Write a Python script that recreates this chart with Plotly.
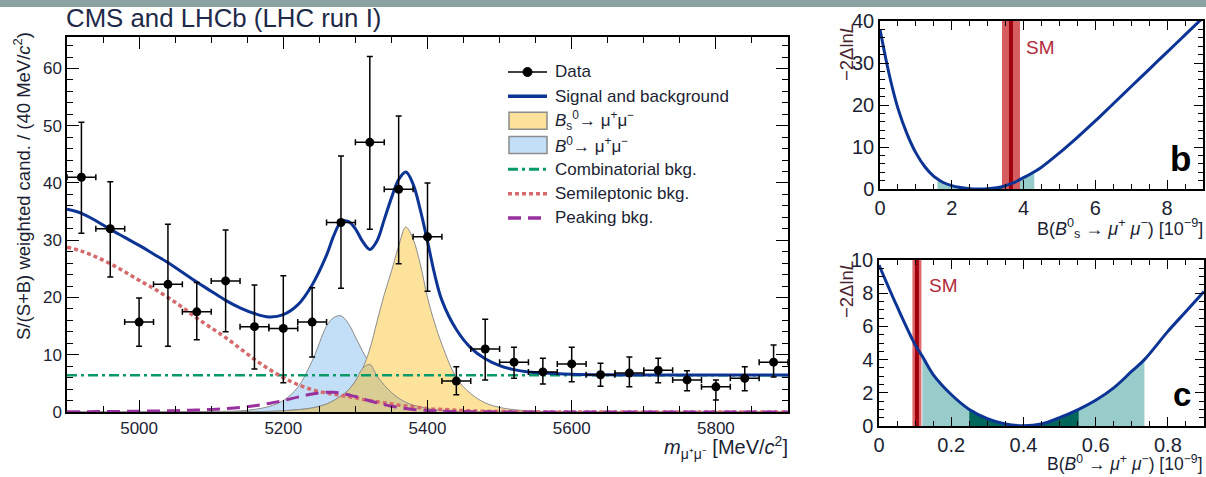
import plotly.graph_objects as go

# ---------------- main panel: data ----------------
bin_centers = [4920, 4960, 5000, 5040, 5080, 5120, 5160, 5200, 5240, 5280, 5320, 5360, 5400,
               5440, 5480, 5520, 5560, 5600, 5640, 5680, 5720, 5760, 5800, 5840, 5880]
data_vals = [41.0, 32.0, 15.7, 22.3, 17.5, 22.9, 14.9, 14.6, 15.7, 33.1, 47.1, 38.9, 30.6,
             5.4, 11.0, 8.7, 7.0, 8.4, 6.5, 6.8, 7.3, 5.6, 4.4, 5.9, 8.7]
data_err_up = [9.6, 8.2, 4.2, 10.5, 5.1, 8.9, 7.3, 9.2, 6.0, 11.6, 15.0, 12.8, 9.4,
               2.5, 5.2, 2.6, 2.4, 2.9, 2.0, 2.8, 2.1, 1.6, 1.2, 2.0, 3.0]
data_err_dn = [9.8, 8.4, 4.2, 10.8, 4.9, 8.9, 7.4, 9.5, 6.1, 11.5, 15.2, 13.0, 9.5,
               2.4, 5.4, 2.8, 2.1, 3.1, 2.0, 2.4, 2.2, 1.9, 2.3, 2.2, 2.6]
bin_half_width = 20

# ---------------- main panel: fit components ----------------
curve_mass = [4900, 4920, 4940, 4960, 4980, 5000, 5020, 5040, 5060, 5080, 5100, 5120, 5140,
              5160, 5180, 5200, 5220, 5240, 5260, 5270, 5280, 5290, 5300, 5310, 5320, 5330,
              5340, 5350, 5360, 5370, 5380, 5390, 5400, 5410, 5420, 5440, 5460, 5480, 5500,
              5520, 5540, 5560, 5600, 5650, 5700, 5750, 5800, 5850, 5900]
total_fit = [35.4, 34.7, 33.4, 31.9, 30.5, 29.1, 27.6, 26.1, 24.4, 22.7, 21.1, 19.5, 18.2,
             17.2, 16.6, 17.0, 18.7, 22.2, 27.4, 30.8, 33.2, 33.3, 32.0, 29.8, 28.4, 29.9,
             33.6, 37.4, 40.6, 41.9, 39.8, 35.3, 29.8, 24.0, 19.5, 14.4, 11.2, 9.3, 8.1,
             7.4, 7.0, 6.8, 6.6, 6.5, 6.45, 6.45, 6.45, 6.45, 6.45]
bs_signal = [0, 0, 0, 0, 0, 0, 0, 0, 0, 0, 0.02, 0.03, 0.05,
             0.07, 0.1, 0.2, 0.4, 0.7, 1.4, 2.0, 2.8, 3.8, 5.4, 7.6, 11.0, 15.8,
             20.5, 24.6, 29.0, 32.3, 30.2, 25.8, 20.0, 15.5, 11.8, 6.0, 3.2, 1.6, 0.8,
             0.4, 0.2, 0.1, 0.04, 0, 0, 0, 0, 0, 0]
b0_signal = [0, 0, 0, 0, 0, 0, 0, 0, 0.02, 0.04, 0.06, 0.12, 0.2,
             0.45, 0.95, 2.0, 4.3, 8.9, 15.0, 16.5, 16.8, 15.5, 13.1, 10.6, 8.3, 6.3,
             4.7, 3.4, 2.4, 1.7, 1.2, 0.9, 0.6, 0.4, 0.3, 0.15, 0.08, 0.04, 0.02,
             0, 0, 0, 0, 0, 0, 0, 0, 0, 0]
semileptonic = [28.8, 28.1, 27.1, 25.9, 24.5, 23.0, 21.6, 20.0, 18.3, 16.4, 14.7, 13.0, 11.1,
                9.2, 7.5, 6.0, 4.8, 3.9, 3.3, 3.1, 2.9, 2.7, 2.5, 2.2, 2.0, 1.8,
                1.6, 1.4, 1.2, 1.05, 0.9, 0.75, 0.6, 0.5, 0.45, 0.3, 0.2, 0.12, 0.08,
                0.05, 0.03, 0.02, 0.01, 0, 0, 0, 0, 0, 0]
peaking = [0.05, 0.06, 0.07, 0.09, 0.11, 0.14, 0.17, 0.21, 0.27, 0.35, 0.45, 0.6, 0.8,
           1.1, 1.5, 2.0, 2.6, 3.15, 3.45, 3.45, 3.3, 3.0, 2.7, 2.3, 1.95, 1.6,
           1.3, 1.0, 0.8, 0.6, 0.45, 0.35, 0.27, 0.2, 0.15, 0.09, 0.05, 0.03, 0.02,
           0.01, 0.01, 0.01, 0.01, 0, 0, 0, 0, 0, 0]
combinatorial_level = 6.4
mass_range = [4900, 5900]

legend_labels = ["Data", "Signal and background",
                 "<i>B</i><sub>s</sub><sup>0</sup>→ μ<sup>+</sup>μ<sup>−</sup>",
                 "<i>B</i><sup>0</sup>→ μ<sup>+</sup>μ<sup>−</sup>",
                 "Combinatorial bkg.", "Semileptonic bkg.", "Peaking bkg."]

# ---------------- panel b: -2 Delta lnL for Bs ----------------
b_x = [0, 0.25, 0.5, 0.75, 1.0, 1.25, 1.5, 1.6, 1.75, 2.0, 2.2, 2.5, 2.75, 3.0, 3.25, 3.4,
       3.5, 3.75, 4.0, 4.3, 4.5, 5.0, 5.5, 6.0, 6.5, 7.0, 7.5, 8.0, 8.5, 9.0]
b_y = [38.0, 27.5, 19.2, 13.2, 8.6, 5.3, 3.0, 2.4, 1.6, 0.8, 0.4, 0.08, 0.0, 0.07, 0.3, 0.55,
       0.8, 1.6, 2.7, 4.1, 5.2, 8.6, 12.3, 16.2, 20.3, 24.4, 28.5, 32.6, 36.7, 40.8]
b_2sigma = [1.6, 4.3]
b_1sigma = [2.2, 3.4]
b_sm = [3.65, 0.25]          # central value, half-width of band
b_yrange = [0, 40]

# ---------------- panel c: -2 Delta lnL for B0 ----------------
c_x = [0, 0.05, 0.1, 0.12, 0.15, 0.2, 0.25, 0.3, 0.35, 0.4, 0.45, 0.5, 0.553, 0.6, 0.65,
       0.7, 0.735, 0.8, 0.85, 0.9]
c_y = [9.7, 7.2, 4.9, 4.2, 3.1, 1.9, 1.0, 0.45, 0.12, 0.02, 0.12, 0.5, 1.0, 1.55, 2.3,
       3.3, 4.0, 5.7, 6.9, 8.1]
c_2sigma = [0.12, 0.735]
c_1sigma = [0.25, 0.553]
c_sm = [0.105, 0.0125]
c_yrange = [0, 10]

# ---------------- styling ----------------
W, H = 1206, 477
FONT = "Liberation Sans, Arial, sans-serif"
TXT = "#1c1f33"
BLUE = "#0b3494"
C_BS = "#fde29b"
C_B0 = "#c3dff7"
C_OVL = "#d9cd93"
C_OUT = "#8c8c8c"
C_COMB = "#0a9a6a"
C_SEMI = "#d46a6c"
C_PEAK = "#98309e"
DASH_COMB = "10px,4px,3px,4px"
DASH_SEMI = "4px,3px"
DASH_PEAK = "13px,7px"


def fx(p):
    return p / W


def fy(p):
    return 1 - p / H


fig = go.Figure()

# signal fills
overlap = [min(a, b) for a, b in zip(b0_signal, bs_signal)]
fig.add_trace(go.Scatter(x=curve_mass, y=b0_signal, mode="lines", fill="tozeroy",
                         fillcolor=C_B0, line=dict(color=C_OUT, width=1, shape="spline"),
                         name="B0 → μμ", xaxis="x", yaxis="y"))
fig.add_trace(go.Scatter(x=curve_mass, y=bs_signal, mode="lines", fill="tozeroy",
                         fillcolor=C_BS, line=dict(color=C_OUT, width=1, shape="spline"),
                         name="Bs → μμ", xaxis="x", yaxis="y"))
fig.add_trace(go.Scatter(x=curve_mass, y=overlap, mode="lines", fill="tozeroy",
                         fillcolor=C_OVL, line=dict(color=C_OUT, width=1, shape="spline"),
                         hoverinfo="skip", xaxis="x", yaxis="y"))

# background components
fig.add_trace(go.Scatter(x=mass_range, y=[combinatorial_level] * len(mass_range), mode="lines",
                         line=dict(color=C_COMB, width=2.5, dash=DASH_COMB),
                         name="Combinatorial bkg.", xaxis="x", yaxis="y"))
fig.add_trace(go.Scatter(x=curve_mass, y=semileptonic, mode="lines",
                         line=dict(color=C_SEMI, width=3.5, dash=DASH_SEMI, shape="spline"),
                         name="Semileptonic bkg.", xaxis="x", yaxis="y"))
fig.add_trace(go.Scatter(x=curve_mass, y=peaking, mode="lines",
                         line=dict(color=C_PEAK, width=3, dash=DASH_PEAK, shape="spline"),
                         name="Peaking bkg.", xaxis="x", yaxis="y"))
fig.add_trace(go.Scatter(x=curve_mass, y=total_fit, mode="lines",
                         line=dict(color=BLUE, width=3, shape="spline"),
                         name="Signal and background", xaxis="x", yaxis="y"))

# data
fig.add_trace(go.Scatter(x=bin_centers, y=data_vals, mode="markers",
                         marker=dict(color="black", size=9),
                         error_y=dict(type="data", symmetric=False, array=data_err_up,
                                      arrayminus=data_err_dn, color="black", thickness=1.5, width=3),
                         error_x=dict(type="constant", value=bin_half_width, color="black",
                                      thickness=1.5, width=3),
                         name="Data", xaxis="x", yaxis="y"))


# ---------- panel b ----------
def band(xs, ys, lo, hi):
    sx = [x for x in xs if lo <= x <= hi]
    sy = [y for x, y in zip(xs, ys) if lo <= x <= hi]
    return sx, sy


for (lo, hi), col in ((b_2sigma, "#97cccb"), (b_1sigma, "#00665c")):
    sx, sy = band(b_x, b_y, lo, hi)
    fig.add_trace(go.Scatter(x=sx, y=sy, mode="lines", fill="tozeroy", fillcolor=col,
                             line=dict(width=0, shape="spline"), xaxis="x2", yaxis="y2"))
sm_lo, sm_hi = b_sm[0] - b_sm[1], b_sm[0] + b_sm[1]
fig.add_trace(go.Scatter(x=[sm_lo, sm_hi, sm_hi, sm_lo, sm_lo],
                         y=[b_yrange[0], b_yrange[0], b_yrange[1], b_yrange[1], b_yrange[0]],
                         mode="lines", fill="toself", fillcolor="#d65c5f", line=dict(width=0),
                         xaxis="x2", yaxis="y2"))
fig.add_trace(go.Scatter(x=[b_sm[0], b_sm[0]], y=b_yrange, mode="lines",
                         line=dict(color="#a0000c", width=4), xaxis="x2", yaxis="y2"))
fig.add_trace(go.Scatter(x=b_x, y=b_y, mode="lines", line=dict(color=BLUE, width=3, shape="spline"),
                         xaxis="x2", yaxis="y2"))

# ---------- panel c ----------
for (lo, hi), col in ((c_2sigma, "#97cccb"), (c_1sigma, "#00665c")):
    sx, sy = band(c_x, c_y, lo, hi)
    fig.add_trace(go.Scatter(x=sx, y=sy, mode="lines", fill="tozeroy", fillcolor=col,
                             line=dict(width=0, shape="spline"), xaxis="x3", yaxis="y3"))
sm_lo, sm_hi = c_sm[0] - c_sm[1], c_sm[0] + c_sm[1]
fig.add_trace(go.Scatter(x=[sm_lo, sm_hi, sm_hi, sm_lo, sm_lo],
                         y=[c_yrange[0], c_yrange[0], c_yrange[1], c_yrange[1], c_yrange[0]],
                         mode="lines", fill="toself", fillcolor="#e0696c", line=dict(width=0),
                         xaxis="x3", yaxis="y3"))
fig.add_trace(go.Scatter(x=[c_sm[0], c_sm[0]], y=c_yrange, mode="lines",
                         line=dict(color="#a0000c", width=4), xaxis="x3", yaxis="y3"))
fig.add_trace(go.Scatter(x=c_x, y=c_y, mode="lines", line=dict(color=BLUE, width=3, shape="spline"),
                         xaxis="x3", yaxis="y3"))


def axis(domain, rng, dtick, mdtick, anchor, size, tlen, mtlen, tick0=0):
    return dict(domain=domain, range=rng, dtick=dtick, tick0=tick0, anchor=anchor,
                showline=True, linecolor="black", linewidth=1.5, mirror="allticks",
                ticks="inside", ticklen=tlen, tickwidth=1.3, tickcolor="black",
                minor=dict(dtick=mdtick, tick0=tick0, ticks="inside", ticklen=mtlen,
                           tickwidth=1.3, tickcolor="black"),
                showgrid=False, zeroline=False, automargin=False,
                tickfont=dict(family=FONT, size=size, color=TXT))


fig.update_layout(
    width=W, height=H, margin=dict(l=0, r=0, t=0, b=0, pad=0), autosize=False,
    paper_bgcolor="white", plot_bgcolor="white", showlegend=False,
    xaxis=axis([fx(67), fx(788)], mass_range, 200, 50, "y", 17, 12, 6, tick0=5000),
    yaxis=axis([fy(412), fy(37)], [0, 65.5], 10, 2, "x", 17, 12, 6),
    xaxis2=axis([fx(880), fx(1203)], [0, 9], 2, 0.5, "y2", 20, 9, 5),
    yaxis2=axis([fy(189), fy(21)], b_yrange, 10, 2, "x2", 20, 9, 5),
    xaxis3=axis([fx(879), fx(1204)], [0, 0.9], 0.2, 0.05, "y3", 20, 9, 5),
    yaxis3=axis([fy(426), fy(260)], c_yrange, 2, 0.5, "x3", 20, 9, 5),
)

ann = [
    dict(x=fx(64), y=fy(18), text="CMS and LHCb (LHC run I)", xanchor="left", yanchor="middle",
         font=dict(family=FONT, size=25.8, color="#1e2a48")),
    dict(x=fx(22), y=fy(186), text="S/(S+B) weighted cand. / (40 MeV/<i>c</i><sup>2</sup>)",
         textangle=-90, xanchor="center", yanchor="middle",
         font=dict(family=FONT, size=18.5, color=TXT)),
    dict(x=fx(790), y=fy(447), text="<i>m</i><sub>μ⁺μ⁻</sub> [MeV/<i>c</i><sup>2</sup>]",
         xanchor="right", yanchor="middle", font=dict(family=FONT, size=20, color=TXT)),
    dict(x=fx(846), y=fy(52), text="−2Δln<i>L</i>", textangle=-90, xanchor="center",
         yanchor="middle", font=dict(family=FONT, size=18.5, color="#4a2430")),
    dict(x=fx(846), y=fy(289), text="−2Δln<i>L</i>", textangle=-90, xanchor="center",
         yanchor="middle", font=dict(family=FONT, size=18.5, color="#4a2430")),
    dict(x=fx(1205), y=fy(228),
         text="B(<i>B</i><sup>0</sup><sub>s</sub> → <i>μ</i><sup>+</sup> <i>μ</i><sup>−</sup>) [10<sup>−9</sup>]",
         xanchor="right", yanchor="middle", font=dict(family=FONT, size=18, color=TXT)),
    dict(x=fx(1205), y=fy(463),
         text="B(<i>B</i><sup>0</sup> → <i>μ</i><sup>+</sup> <i>μ</i><sup>−</sup>) [10<sup>−9</sup>]",
         xanchor="right", yanchor="middle", font=dict(family=FONT, size=17.5, color=TXT)),
    dict(x=fx(1024), y=fy(47), text="SM", xanchor="left", yanchor="middle",
         font=dict(family=FONT, size=19, color="#b02a3c")),
    dict(x=fx(927), y=fy(285), text="SM", xanchor="left", yanchor="middle",
         font=dict(family=FONT, size=19, color="#b02a3c")),
    dict(x=fx(1180), y=fy(159), text="<b>b</b>", xanchor="center", yanchor="middle",
         font=dict(family=FONT, size=35, color="black")),
    dict(x=fx(1182), y=fy(394), text="<b>c</b>", xanchor="center", yanchor="middle",
         font=dict(family=FONT, size=33, color="black")),
]

# ---------- legend (drawn as a key block inside the main panel) ----------
row0, row_step = 72, 24.33
kx0, kx1, text_x = 508, 547, 553
shapes = []
for i, label in enumerate(legend_labels):
    yc = row0 + i * row_step
    ann.append(dict(x=fx(text_x), y=fy(yc), text=label, xanchor="left", yanchor="middle",
                    font=dict(family=FONT, size=17, color=TXT)))
    if i == 0:
        shapes.append(dict(type="line", x0=fx(kx0), x1=fx(kx1), y0=fy(yc), y1=fy(yc),
                           line=dict(color="black", width=1.5)))
        cx = (kx0 + kx1) / 2
        shapes.append(dict(type="circle", x0=fx(cx - 4.5), x1=fx(cx + 4.5), y0=fy(yc + 4.5),
                           y1=fy(yc - 4.5), fillcolor="black", line=dict(color="black", width=1)))
    elif i == 1:
        shapes.append(dict(type="line", x0=fx(kx0), x1=fx(kx1), y0=fy(yc), y1=fy(yc),
                           line=dict(color=BLUE, width=3.5)))
    elif i in (2, 3):
        shapes.append(dict(type="rect", x0=fx(kx0 + 1), x1=fx(kx1), y0=fy(yc + 8.5), y1=fy(yc - 8.5),
                           fillcolor=C_BS if i == 2 else C_B0, line=dict(color=C_OUT, width=1.5)))
    else:
        col, dash, wid = {4: (C_COMB, DASH_COMB, 3), 5: (C_SEMI, DASH_SEMI, 3.5),
                          6: (C_PEAK, DASH_PEAK, 3.5)}[i]
        shapes.append(dict(type="line", x0=fx(kx0), x1=fx(kx1), y0=fy(yc), y1=fy(yc),
                           line=dict(color=col, width=wid, dash=dash)))

for a in ann:
    a.update(xref="paper", yref="paper", showarrow=False)
for s in shapes:
    s.update(xref="paper", yref="paper")

shapes.append(dict(type="rect", xref="paper", yref="paper", x0=0, x1=1, y0=fy(7), y1=1,
                   fillcolor="#8ca2a2", line=dict(width=0), layer="above"))
fig.update_layout(annotations=ann, shapes=shapes)

fig.write_html("out.html",
               post_script="document.body.style.margin='0px';document.body.style.overflow='hidden';")
